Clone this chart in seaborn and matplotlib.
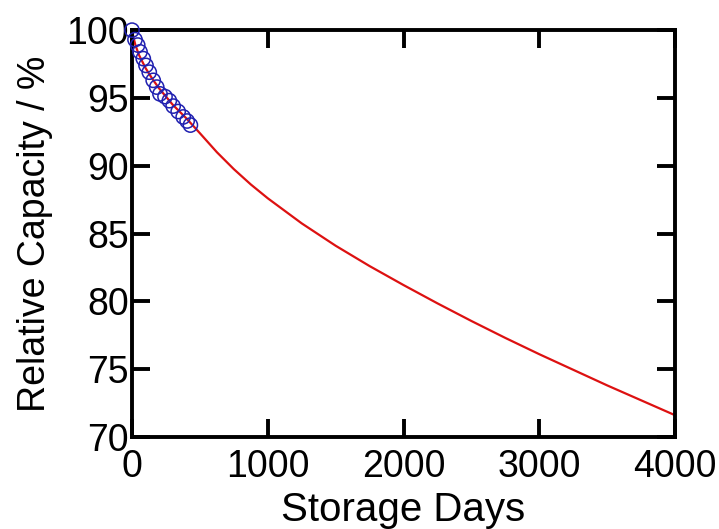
import matplotlib
matplotlib.use("Agg")
import matplotlib.pyplot as plt
import seaborn as sns
import pandas as pd

# Measured capacity retention during storage
measured_days = [0, 22, 42, 59, 83, 103, 127, 156, 182, 206, 243, 275, 303, 340, 377, 406, 430]
measured_capacity = [100.0, 99.3, 98.9, 98.4, 97.9, 97.4, 96.9, 96.3, 95.8, 95.3, 95.1, 94.8,
                     94.4, 94.0, 93.6, 93.3, 93.0]

# Fitted prediction curve out to 4000 days
fit_days = [0, 10, 25, 50, 100, 150, 200, 250, 300, 350, 400, 450, 500, 625, 750, 875,
            1000, 1250, 1500, 1750, 2000, 2250, 2500, 2750, 3000, 3250, 3500, 3750, 4000]
fit_capacity = [100.0, 99.5, 98.9, 98.2, 97.2, 96.4, 95.7, 95.1, 94.5, 94.0, 93.5, 92.95,
                92.4, 91.0, 89.75, 88.62, 87.6, 85.75, 84.1, 82.6, 81.2, 79.85, 78.55,
                77.3, 76.1, 74.95, 73.8, 72.7, 71.6]

x_ticks = [0, 1000, 2000, 3000, 4000]
y_ticks = [70, 75, 80, 85, 90, 95, 100]

sns.set_theme(style="white")
plt.rcParams["font.family"] = ["Liberation Sans", "DejaVu Sans"]

fit_df = pd.DataFrame({"days": fit_days, "capacity": fit_capacity})
meas_df = pd.DataFrame({"days": measured_days, "capacity": measured_capacity})

fig = plt.figure(figsize=(7.19, 5.29), dpi=100)
ax = fig.add_axes([0.1836, 0.174, 0.7554, 0.769])

sns.lineplot(data=fit_df, x="days", y="capacity", ax=ax, color="#dd1111",
             linewidth=1.6, zorder=2)
sns.scatterplot(data=meas_df, x="days", y="capacity", ax=ax, s=105, marker="o",
                facecolors="none", edgecolor="#2020b0", linewidth=1.1, zorder=3,
                clip_on=False)

ax.set_xlim(0, 4000)
ax.set_ylim(70, 100)
ax.set_xticks(x_ticks)
ax.set_yticks(y_ticks)
ax.set_xticklabels([str(t) for t in x_ticks])
ax.set_yticklabels([str(t) for t in y_ticks])

for side in ["top", "bottom", "left", "right"]:
    ax.spines[side].set_visible(True)
    ax.spines[side].set_color("black")
    ax.spines[side].set_linewidth(2.8)

ax.tick_params(axis="both", which="major", direction="in", length=13, width=2.8,
               color="black", top=True, right=True, bottom=True, left=True,
               labelsize=27, labelcolor="black")
ax.tick_params(axis="y", pad=2)
ax.tick_params(axis="x", pad=9)

ax.set_xlabel("Storage Days", fontsize=29, color="black", labelpad=4)
ax.set_ylabel("Relative Capacity / %", fontsize=27, color="black", labelpad=10)
ax.grid(False)

fig.savefig("out.png", dpi=100, facecolor="white")
